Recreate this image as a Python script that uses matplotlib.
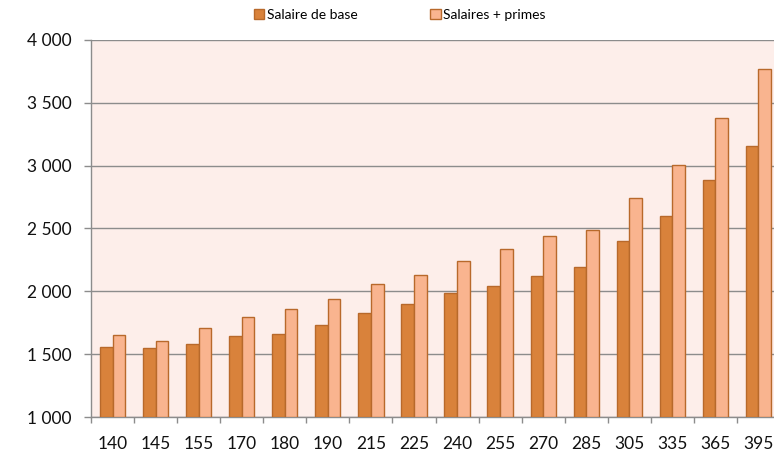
import matplotlib
matplotlib.use("Agg")
import matplotlib.pyplot as plt
import numpy as np
from matplotlib.patches import Patch

categories = ["140", "145", "155", "170", "180", "190", "215", "225",
              "240", "255", "270", "285", "305", "335", "365", "395"]
salaire_base = [1554, 1549, 1581, 1645, 1658, 1732, 1830, 1902,
                1984, 2042, 2124, 2196, 2403, 2599, 2883, 3159]
salaires_primes = [1650, 1602, 1706, 1796, 1862, 1939, 2058, 2128,
                   2244, 2339, 2443, 2486, 2745, 3008, 3381, 3770]
yticks = [1000, 1500, 2000, 2500, 3000, 3500, 4000]
ytick_labels = ["1 000", "1 500", "2 000", "2 500", "3 000", "3 500", "4 000"]

plt.rcParams['font.family'] = ['Lato', 'DejaVu Sans']

W, H = 774, 465
fig = plt.figure(figsize=(W / 100, H / 100), dpi=100)
left, right, top, bottom = 91, 780, 40, 417
ax = fig.add_axes([left / W, 1 - bottom / H, (right - left) / W, (bottom - top) / H])
ax.set_facecolor("#FDEEEA")

x = np.arange(len(categories))
bw = 0.293
c_base = "#D9823B"
c_prime = "#F9B48F"
c_edge = "#B8692B"
ax.bar(x - bw / 2, np.array(salaire_base) - 1000, bw, bottom=1000, color=c_base,
       edgecolor=c_edge, linewidth=1.0, zorder=3)
ax.bar(x + bw / 2, np.array(salaires_primes) - 1000, bw, bottom=1000, color=c_prime,
       edgecolor=c_edge, linewidth=1.0, zorder=3)

ax.set_xlim(-0.5, len(categories) - 0.5)
ax.set_ylim(1000, 4000)
ax.set_yticks(yticks)
ax.set_yticklabels(ytick_labels)
ax.yaxis.grid(True, color="#8C8C8C", linewidth=1.0, zorder=1)
ax.set_axisbelow(True)

ax.set_xticks(x)
ax.set_xticklabels(categories)
ax.set_xticks(np.arange(-0.5, len(categories), 1.0), minor=True)
ax.tick_params(axis='x', which='major', length=0, pad=14, labelsize=12.5, colors="#111111")
ax.tick_params(axis='x', which='minor', length=4, width=1, color="#8C8C8C", direction='out')
ax.tick_params(axis='y', length=5, width=1, color="#8C8C8C", direction='out', pad=9,
               labelsize=12.5, colors="#111111")
ax.tick_params(axis='y', colors="#8C8C8C", labelcolor="#111111")

for s in ["top", "right"]:
    ax.spines[s].set_visible(False)
for s in ["left", "bottom"]:
    ax.spines[s].set_color("#8C8C8C")
    ax.spines[s].set_linewidth(1.0)

handles = [Patch(facecolor=c_base, edgecolor=c_edge, label="Salaire de base"),
           Patch(facecolor=c_prime, edgecolor=c_edge, label="Salaires + primes")]
fig.legend(handles=handles, loc="center", bbox_to_anchor=(400 / W, 1 - 15 / H),
           ncol=2, frameon=False, fontsize=10, handlelength=0.75, handleheight=0.75,
           handletextpad=0.2, columnspacing=5.2)

fig.savefig("out.png", dpi=100)
